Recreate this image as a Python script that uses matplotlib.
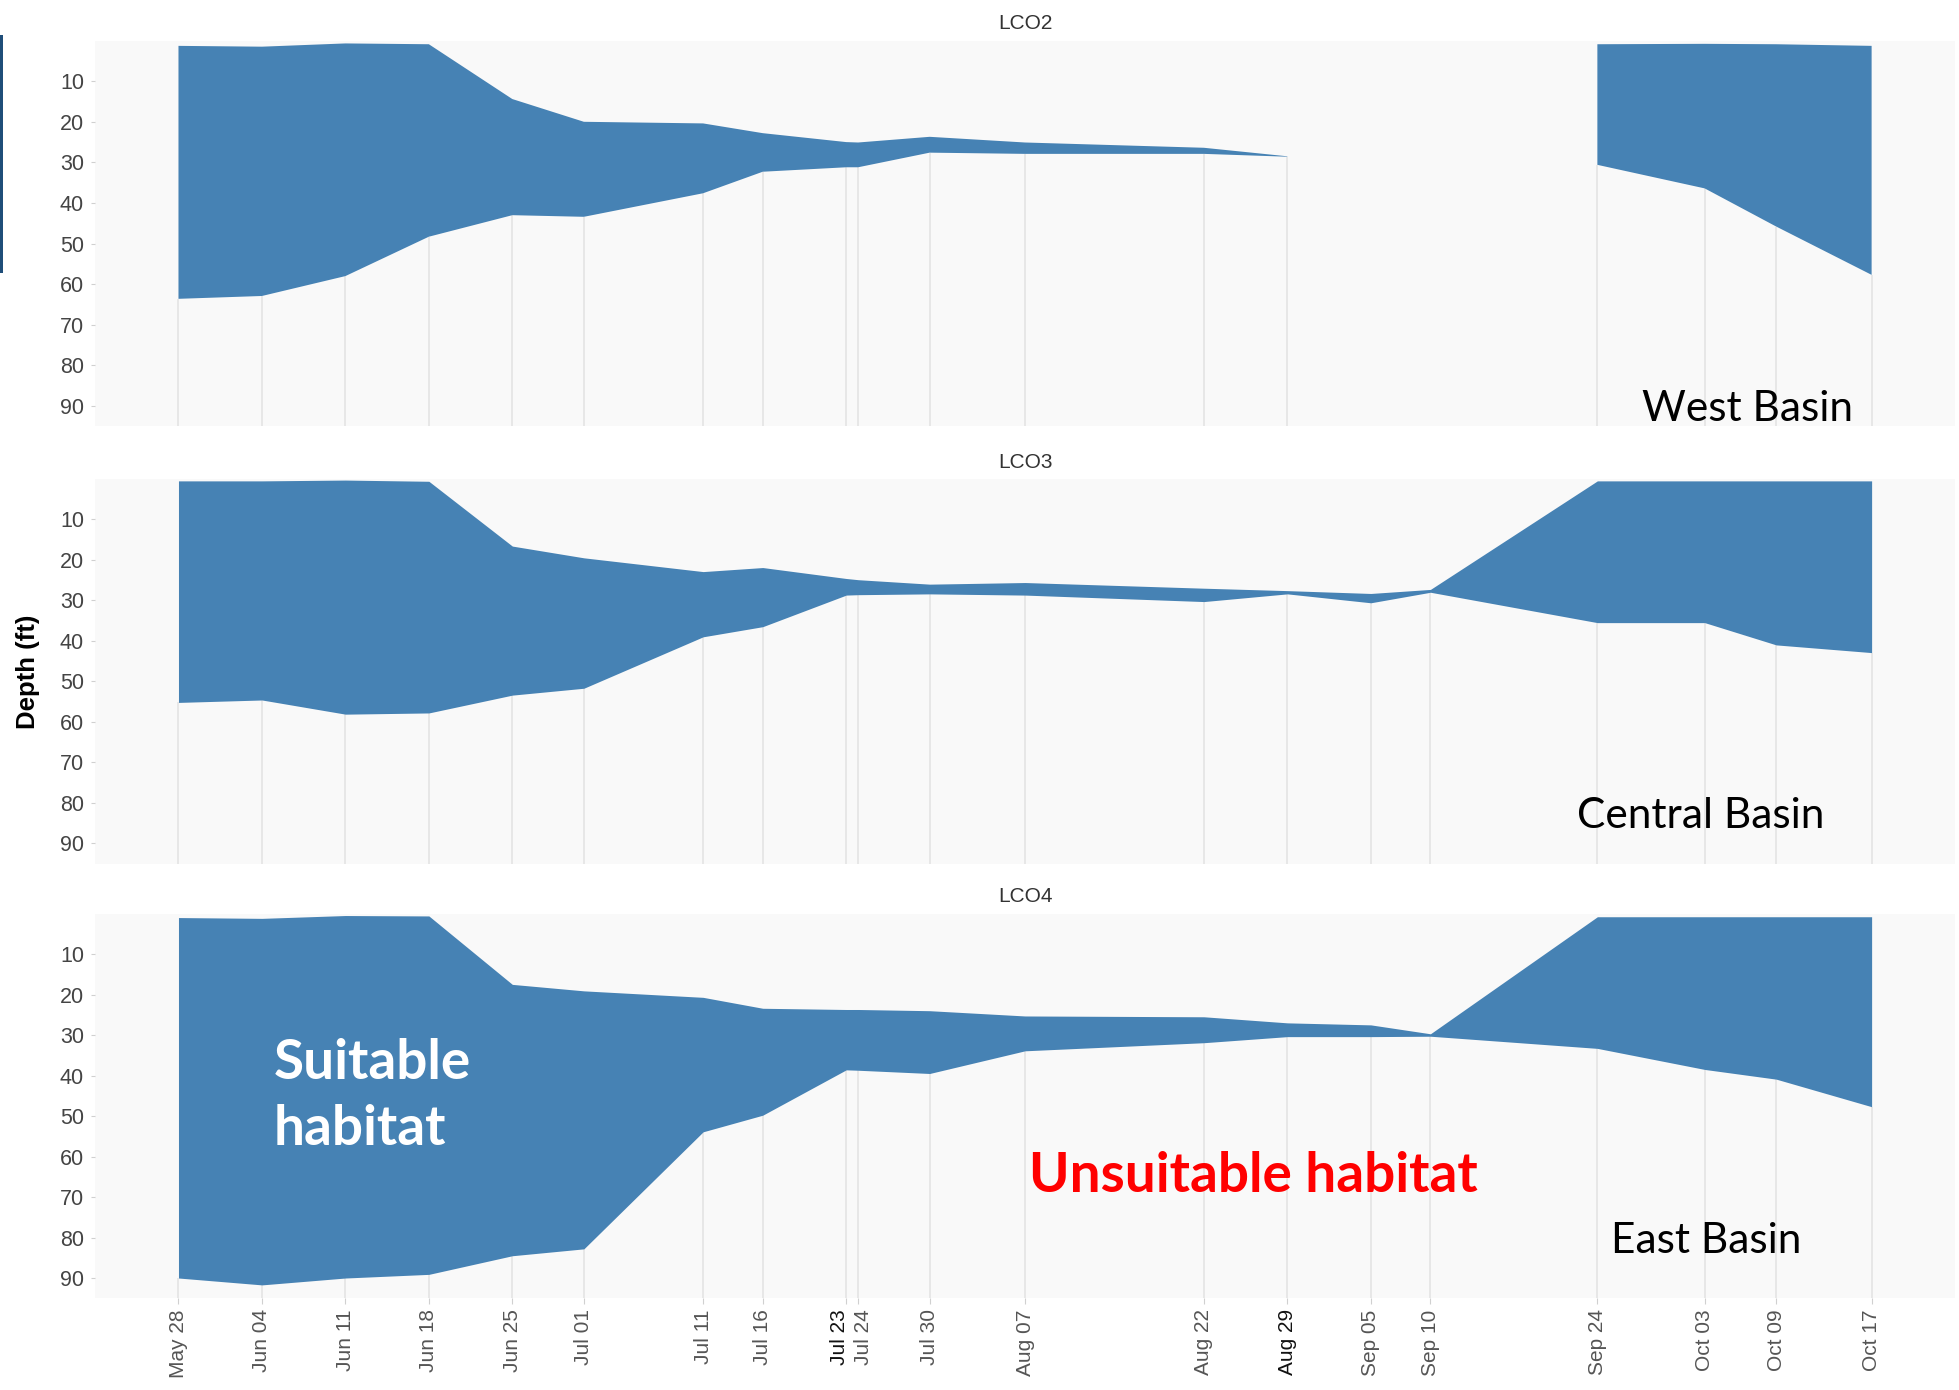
import numpy as np
import pandas as pd
import matplotlib
matplotlib.use('Agg')
import matplotlib.pyplot as plt
import matplotlib.transforms as mtransforms
from matplotlib.patches import Rectangle

# sampling dates (same for all three stations)
dates = ['May 28', 'Jun 04', 'Jun 11', 'Jun 18', 'Jun 25', 'Jul 01', 'Jul 11',
         'Jul 16', 'Jul 23', 'Jul 24', 'Jul 30', 'Aug 07', 'Aug 22', 'Aug 29',
         'Sep 05', 'Sep 10', 'Sep 24', 'Oct 03', 'Oct 09', 'Oct 17']

stations = ['LCO2', 'LCO3', 'LCO4']
basins = ['West Basin', 'Central Basin', 'East Basin']

nan = np.nan
# upper / lower depth (ft) of suitable habitat band
lco2_top = [1.3, 1.5, 0.7, 0.9, 14.4, 20.0, 20.4, 22.8, 25.0, 25.1, 23.7, 25.1,
            26.4, 28.5, nan, nan, 0.9, 0.8, 0.9, 1.3]
lco2_bot = [63.6, 62.9, 58.0, 48.3, 43.0, 43.4, 37.6, 32.3, 31.2, 31.2, 27.6, 27.9,
            27.9, 28.6, nan, nan, 30.6, 36.4, 45.8, 57.7]

lco3_top = [0.5, 0.5, 0.3, 0.6, 16.6, 19.5, 22.9, 21.9, 24.6, 24.9, 26.0, 25.6,
            27.0, 27.6, 28.3, 27.3, 0.5, 0.5, 0.5, 0.5]
lco3_bot = [55.2, 54.6, 58.1, 57.8, 53.4, 51.7, 39.0, 36.5, 28.7, 28.6, 28.4, 28.7,
            30.3, 28.4, 30.6, 28.0, 35.5, 35.5, 41.0, 42.9]

lco4_top = [1.0, 1.2, 0.5, 0.6, 17.5, 19.1, 20.7, 23.4, 23.7, 23.7, 24.0, 25.3,
            25.5, 27.0, 27.5, 29.7, 0.8, 0.8, 0.8, 0.8]
lco4_bot = [90.0, 91.7, 90.0, 89.1, 84.5, 82.8, 53.9, 49.8, 38.6, 38.7, 39.5, 33.9,
            31.9, 30.4, 30.4, 30.3, 33.3, 38.5, 40.9, 47.7]

tops = [lco2_top, lco3_top, lco4_top]
bots = [lco2_bot, lco3_bot, lco4_bot]

x = pd.to_datetime([d + ' 2019' for d in dates], format='%b %d %Y')

fig = plt.figure(figsize=(19.59, 13.90), dpi=100)
fig.patch.set_facecolor('white')

# axes boxes [left, bottom, width, height]
boxes = [[0.0485, 0.6933, 0.9495, 0.2775],
         [0.0485, 0.3787, 0.9495, 0.2768],
         [0.0485, 0.0660, 0.9495, 0.2768]]

for i, st in enumerate(stations):
    ax = fig.add_axes(boxes[i])
    ax.set_facecolor('#f9f9f9')
    top = np.array(tops[i], dtype=float)
    bot = np.array(bots[i], dtype=float)
    ok = ~np.isnan(bot)

    # grid lines below the habitat band
    ax.vlines(x[ok], bot[ok], 95, color='#e6e6e6', lw=1.3, zorder=1)
    ax.fill_between(x, top, bot, color='#4682b4', lw=0, zorder=2)

    ax.set_ylim(95, 0)
    ax.set_xlim(pd.Timestamp('2019-05-21'), pd.Timestamp('2019-10-24'))
    ax.set_yticks(range(10, 100, 10))
    ax.set_xticks(x)
    for s in ax.spines.values():
        s.set_visible(False)
    ax.tick_params(axis='y', length=3, color='#d0d0d0', labelsize=15.5,
                   labelcolor='#444444', pad=5)
    for lab in ax.get_yticklabels():
        lab.set_family('Liberation Sans')
    if i < 2:
        ax.tick_params(axis='x', bottom=False, labelbottom=False)
    else:
        ax.set_xticklabels(dates, rotation=90, family='Liberation Sans')
        ax.tick_params(axis='x', length=4, color='#d0d0d0', labelsize=15,
                       labelcolor='#555555', pad=4)
        for lab in ax.get_xticklabels():
            t = lab.get_text()
            if t in ('Jul 23', 'Aug 29'):
                lab.set_color('#111111')
            # nudge the two crowded July labels apart
            if t == 'Jul 23':
                lab.set_transform(lab.get_transform() + mtransforms.ScaledTranslation(
                    -5 / 72, 0, fig.dpi_scale_trans))
            if t == 'Jul 24':
                lab.set_transform(lab.get_transform() + mtransforms.ScaledTranslation(
                    4 / 72, 0, fig.dpi_scale_trans))
    ax.set_title(st, fontsize=15, color='#333333', pad=8, family='Liberation Sans')

fig.text(0.0145, 0.517, 'Depth (ft)', rotation=90, ha='center', va='center',
         fontsize=18.5, fontweight='bold', family='Liberation Sans')

# basin labels
basin_pos = [(0.892, 0.6973), (0.868, 0.4043), (0.871, 0.0986)]
for name, (bx, by) in zip(basins, basin_pos):
    fig.text(bx, by, name, ha='center', va='baseline', fontsize=30.5,
             family='Lato', color='black')

fig.text(0.1399, 0.1763, 'Suitable\nhabitat', ha='left', va='baseline',
         fontsize=39.5, fontweight='bold', family='Lato', color='white',
         linespacing=1.4)
fig.text(0.5253, 0.1424, 'Unsuitable habitat', ha='left', va='baseline',
         fontsize=39.5, fontweight='bold', family='Lato', color='#ff0000')

# slide edge bar
fig.add_artist(Rectangle((0, 1 - 273 / 1390), 3 / 1959, 238 / 1390,
                         transform=fig.transFigure, color='#1f4e79', lw=0))

fig.savefig('out.png', dpi=100, facecolor='white')
